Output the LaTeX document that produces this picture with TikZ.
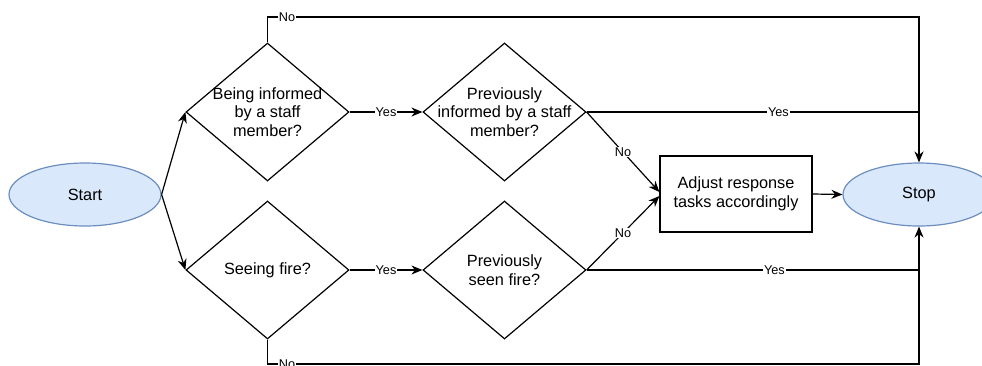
\documentclass[tikz,border=0pt]{standalone}
\usepackage{fontspec}
\setmainfont{Liberation Sans}
\usetikzlibrary{arrows.meta}
\usetikzlibrary{shapes.geometric}
\definecolor{termfill}{HTML}{DAE8FC}
\definecolor{termdraw}{HTML}{6C8EBF}
\tikzset{terminal/.style={ellipse, draw=termdraw, fill=termfill, line width=1.2pt,
  minimum width=152pt, minimum height=63pt, font=\fontsize{16.3}{18.8}\selectfont}}
\tikzset{decision/.style={diamond, draw, line width=1.2pt, inner sep=0pt,
  minimum width=163pt, minimum height=138pt}}
\tikzset{qtext/.style={align=center, font=\fontsize{16.3}{18.8}\selectfont}}
\tikzset{process/.style={rectangle, draw, line width=1.2pt, align=center,
  minimum width=152pt, minimum height=76pt, font=\fontsize{16.3}{18.8}\selectfont}}
\tikzset{line/.style={line width=1.2pt}}
\tikzset{flow/.style={line width=1.2pt, -{Stealth[length=11pt, width=9pt]}}}
\tikzset{lbl/.style={fill=white, inner sep=1pt, font=\fontsize{12.7}{14}\selectfont}}

\begin{document}
\begin{tikzpicture}[x=1pt, y=-1pt]
      \useasboundingbox (0,0) rectangle (982,365);

      \node [terminal] (start) at (85,194.5) {Start};
      \node [terminal] (stop) at (919,194.5) {Stop};

      \node [decision, label={[qtext]center:{Being informed\\by a staff\\member?}}] (informed) at (267.5,112) {};
      \node [decision, label={[qtext]center:{Seeing fire?}}] (fire) at (267.5,270) {};
      \node [decision, label={[qtext]center:{Previously\\informed by a staff\\member?}}] (previnf) at (504.5,112) {};
      \node [decision, label={[qtext]center:{Previously\\seen fire?}}] (prevfire) at (504.5,270) {};

      \node [process] (adjust) at (736,194) {Adjust response\\tasks accordingly};

      \draw [flow] (start.east) -- (informed.west);
      \draw [flow] (start.east) -- (fire.west);

      \draw [flow] (informed.east) -- node [lbl] {Yes} (previnf.west);
      \draw [flow] (fire.east) -- node [lbl] {Yes} (prevfire.west);

      \draw [flow] (informed.north) -- (informed.north |- 0,17)
        -- node [lbl, pos=0.03] {No} (stop.north |- 0,17) -- (stop.north);
      \draw [flow] (fire.south) -- (fire.south |- 0,364)
        -- node [lbl, pos=0.03] {No} (stop.south |- 0,364) -- (stop.south);

      \draw [line] (previnf.east) -- node [lbl, pos=0.577] {Yes} (stop.north |- previnf.east);
      \draw [line] (prevfire.east) -- node [lbl, pos=0.565] {Yes} (stop.south |- prevfire.east);

      \draw [flow] (previnf.east) -- node [lbl] {No} ([yshift=2pt]adjust.west);
      \draw [flow] (prevfire.east) -- node [lbl] {No} ([yshift=-2pt]adjust.west);

      \draw [flow] (adjust.east) -- (stop.west);

\end{tikzpicture}
\end{document}
